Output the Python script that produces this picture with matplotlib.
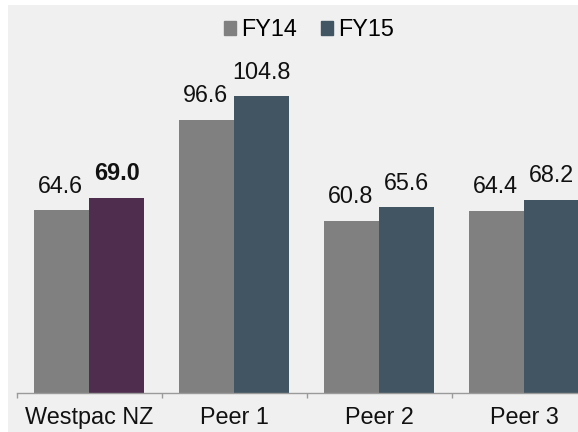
import matplotlib
matplotlib.use("Agg")
import matplotlib.pyplot as plt
import numpy as np
from matplotlib.patches import Rectangle, Patch

categories = ["Westpac NZ", "Peer 1", "Peer 2", "Peer 3"]
fy14 = [64.6, 96.6, 60.8, 64.4]
fy15 = [69.0, 104.8, 65.6, 68.2]
series_names = ["FY14", "FY15"]

plt.rcParams["font.family"] = ["Liberation Sans", "DejaVu Sans"]

W, H = 578, 432
fig = plt.figure(figsize=(W / 100, H / 100), dpi=100, facecolor="white")

# light grey panel with a thin white margin on the left and top
fig.patches.append(Rectangle((8 / W, 0), 1, 1 - 5 / H, transform=fig.transFigure,
                             facecolor="#f0f0f0", edgecolor="none", zorder=-10))

ax = fig.add_axes([16.6 / W, 39.5 / H, 580 / W, 339 / H])
ax.set_facecolor("none")

x = np.arange(len(categories))
w = 0.38
c14 = "#808080"
c15 = "#415563"
c15_westpac = "#4e2d4f"

ax.bar(x - w / 2, fy14, w, color=c14)
cols15 = [c15_westpac] + [c15] * (len(categories) - 1)
ax.bar(x + w / 2, fy15, w, color=cols15)

fs = 16.8
for i, (a, b) in enumerate(zip(fy14, fy15)):
    ax.annotate(f"{a:.1f}", (x[i] - w / 2, a), xytext=(-1, 12.6),
                textcoords="offset points", ha="center", va="baseline",
                fontsize=fs, color="#111111")
    ax.annotate(f"{b:.1f}", (x[i] + w / 2, b), xytext=(0, 12.6),
                textcoords="offset points", ha="center", va="baseline",
                fontsize=fs, color="#111111",
                fontweight="bold" if i == 0 else "normal")

ax.set_xlim(-0.5, len(categories) - 0.5)
ax.set_ylim(0, 120)
ax.set_yticks([])
for s in ["left", "right", "top"]:
    ax.spines[s].set_visible(False)
ax.spines["bottom"].set_color("#9a9a9a")
ax.spines["bottom"].set_linewidth(1)

ax.set_xticks(x)
ax.set_xticklabels(categories, fontsize=fs, color="#111111")
ax.tick_params(axis="x", which="major", length=0, pad=9.5)
ax.set_xticks(np.arange(-0.5, len(categories) - 0.5, 1), minor=True)
ax.tick_params(axis="x", which="minor", length=3.6, width=1, color="#9a9a9a",
               direction="out")

handles = [Patch(color=c14), Patch(color=c15)]
fig.legend(handles=handles, labels=series_names, loc="center",
           bbox_to_anchor=(309 / W, 1 - 29.5 / H), ncol=2, frameon=False,
           fontsize=fs, handlelength=0.52, handleheight=0.52,
           handletextpad=0.22, columnspacing=1.0, borderpad=0)

fig.savefig("out.png", dpi=100, facecolor=fig.get_facecolor())
